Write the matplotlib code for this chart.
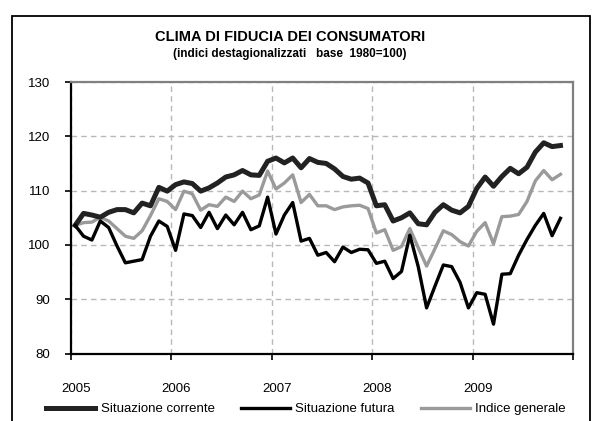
import numpy as np
import matplotlib
matplotlib.use('Agg')
import matplotlib.pyplot as plt
import matplotlib.transforms as mtransforms
from matplotlib.patches import Rectangle

plt.rcParams['font.family'] = ['Liberation Sans', 'DejaVu Sans']

# monthly data, Jan 2005 - Nov 2009
corrente = [103.6, 105.8, 105.5, 105.1, 106.0, 106.5, 106.5, 105.9, 107.7, 107.2,
            110.6, 109.9, 111.1, 111.6, 111.3, 109.9, 110.5, 111.4, 112.5, 112.9,
            113.7, 112.9, 112.8, 115.4, 116.0, 115.1, 116.0, 114.2, 115.9, 115.2,
            115.0, 114.0, 112.6, 112.1, 112.3, 111.4, 107.2, 107.4, 104.4, 105.0,
            105.9, 103.9, 103.7, 106.0, 107.4, 106.4, 105.9, 107.1, 110.4, 112.5,
            110.8, 112.6, 114.1, 113.1, 114.3, 117.1, 118.8, 118.1, 118.3]
futura = [103.6, 101.6, 100.9, 104.4, 103.2, 99.8, 96.7, 97.0, 97.3, 101.6,
          104.4, 103.4, 99.0, 105.7, 105.4, 103.2, 106.0, 103.0, 105.5, 103.7,
          106.0, 102.8, 103.5, 108.8, 102.0, 105.5, 107.8, 100.7, 101.2, 98.1,
          98.6, 96.9, 99.6, 98.6, 99.2, 99.1, 96.6, 97.0, 93.8, 95.1,
          101.8, 96.0, 88.4, 92.4, 96.3, 96.0, 93.1, 88.4, 91.2, 90.9,
          85.4, 94.6, 94.7, 98.1, 101.0, 103.6, 105.8, 101.7, 104.9]
generale = [103.6, 104.1, 104.2, 105.1, 104.4, 103.0, 101.6, 101.2, 102.6, 105.4,
            108.5, 108.0, 106.5, 109.9, 109.4, 106.4, 107.4, 107.1, 108.8, 108.0,
            109.9, 108.5, 109.2, 113.6, 110.3, 111.4, 112.9, 107.8, 109.3, 107.2,
            107.2, 106.5, 107.0, 107.2, 107.3, 106.7, 102.2, 102.8, 99.0, 99.7,
            103.0, 99.5, 96.1, 99.3, 102.6, 101.9, 100.6, 99.8, 102.5, 104.1,
            100.2, 105.2, 105.3, 105.6, 108.0, 111.8, 113.7, 112.0, 113.0]

years = [2005, 2006, 2007, 2008, 2009, 2010]
year_labels = ['2005', '2006', '2007', '2008', '2009', '']
yticks = [80, 90, 100, 110, 120, 130]

# mid-month positions
x = 2005 + (np.arange(len(corrente)) + 0.5) / 12

fig = plt.figure(figsize=(6, 4.21), dpi=100)
ax = fig.add_axes([71/600, 1 - 353.5/421, 502/600, 271.5/421])

# outer frame
fig.patches.append(Rectangle((11.5/600, -0.2), 578/600, 1.2 - 16/421,
                             transform=fig.transFigure, fill=False,
                             edgecolor='black', lw=1.3))

ax.plot(x, corrente, color='#222222', lw=3.6, solid_joinstyle='round', label='Situazione corrente', zorder=3)
ax.plot(x, futura, color='black', lw=2.4, solid_joinstyle='round', label='Situazione futura', zorder=4)
ax.plot(x, generale, color='#9a9a9a', lw=2.4, solid_joinstyle='round', label='Indice generale', zorder=2)

ax.set_xlim(2005, 2010)
ax.set_ylim(80, 130)
ax.set_xticks(years)
ax.set_xticklabels(year_labels)
ax.set_yticks(yticks)

ax.grid(True, color='#b8b8b8', ls=(0, (4, 3)), lw=1)
ax.set_axisbelow(True)

for s in ['left', 'bottom']:
    ax.spines[s].set_color('black')
    ax.spines[s].set_linewidth(1.6)
for s in ['top', 'right']:
    ax.spines[s].set_color('#808080')
    ax.spines[s].set_linewidth(1.6)

ax.tick_params(axis='y', direction='out', length=4, width=1.2, pad=11, labelsize=9.5)
ax.tick_params(axis='x', direction='out', length=4, width=1.2, pad=17, labelsize=9.5)
offset = mtransforms.ScaledTranslation(5/100, 0, fig.dpi_scale_trans)
for lab in ax.get_xticklabels():
    lab.set_transform(lab.get_transform() + offset)

fig.text(290/600, 1 - 37/421, 'CLIMA DI FIDUCIA DEI CONSUMATORI', ha='center', va='center',
         fontsize=10.5, fontweight='bold')
fig.text(290/600, 1 - 54/421, '(indici destagionalizzati   base  1980=100)', ha='center', va='center',
         fontsize=8.5, fontweight='bold')

fig.legend(loc='center', bbox_to_anchor=(306/600, 1 - 409/421), ncol=3, frameon=False,
           fontsize=9.5, handlelength=3.7, handletextpad=0.4, columnspacing=2.0)

fig.savefig('out.png', dpi=100)
